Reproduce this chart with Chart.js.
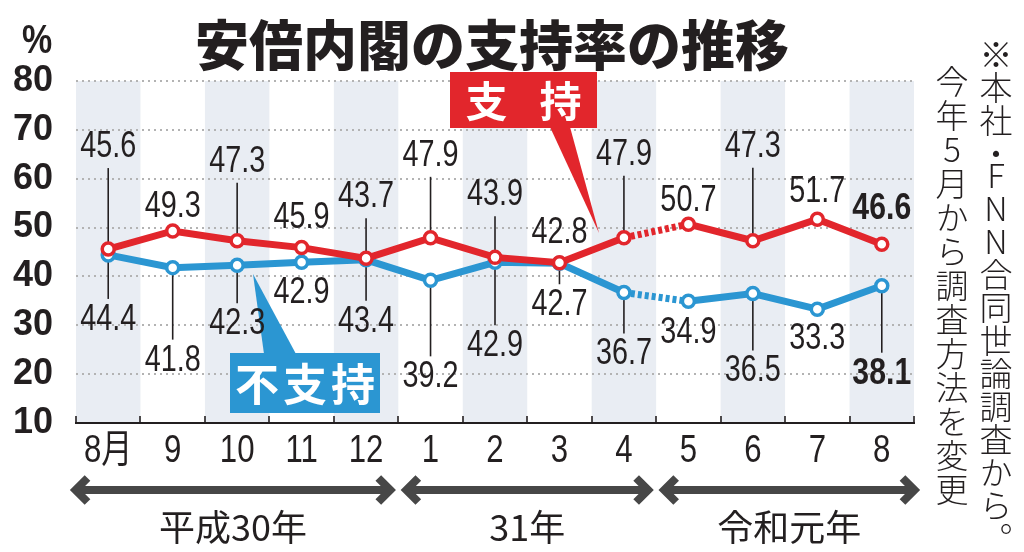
<!DOCTYPE html>
<html lang="ja">
<head>
<meta charset="utf-8">
<script src="https://cdn.jsdelivr.net/npm/chart.js@4.4.1/dist/chart.umd.min.js"></script>
<style>
  html, body { margin: 0; padding: 0; background: #fff; }
  #wrap { position: relative; width: 1024px; height: 552px; overflow: hidden; }
  #chart { position: absolute; left: 0; top: 0; }
  .txt { position: absolute; color: #231f20; white-space: nowrap; }
  #title { left: 0; width: 984px; top: 13px; text-align: center; font: 900 54px/60px "Noto Sans CJK JP", sans-serif; }
  #pct { left: 22px; top: 19px; font: bold 40px/40px "Liberation Sans", sans-serif; transform: scaleX(0.85); transform-origin: left top; }
  .note { writing-mode: vertical-rl; text-orientation: upright; font: 300 33px/33px "Noto Sans CJK JP", sans-serif; }
  #note1 { left: 979px; top: 38px; }
  #note1 .dot { letter-spacing: -11px; }
  #note2 { left: 935px; top: 65px; letter-spacing: 1px; }
</style>
</head>
<body>
<div id="wrap">
  <canvas id="chart" width="1024" height="552"></canvas>
  <div id="title" class="txt">安倍内閣の支持率の推移</div>
  <div id="pct" class="txt">%</div>
  <div id="note1" class="txt note">※本社<span class="dot">・</span>FNN合同世論調査から。</div>
  <div id="note2" class="txt note">今年5月から調査方法を変更</div>
</div>
<script>
// ===== Data =====
const months = ["8月", "9", "10", "11", "12", "1", "2", "3", "4", "5", "6", "7", "8"];
const supportRate = [45.6, 49.3, 47.3, 45.9, 43.7, 47.9, 43.9, 42.8, 47.9, 50.7, 47.3, 51.7, 46.6];
const nonSupportRate = [44.4, 41.8, 42.3, 42.9, 43.4, 39.2, 42.9, 42.7, 36.7, 34.9, 36.5, 33.3, 38.1];
const yTicks = [10, 20, 30, 40, 50, 60, 70, 80];
const eraLabels = ["平成30年", "31年", "令和元年"];
const eraStart = [0, 5, 9];
const eraEnd = [4, 8, 12];
const methodChangeAt = 8;   // survey method changed between Apr and May (dotted)
const latestIndex = 12;     // latest values are shown in bold

// ===== Styles =====
const RED = "#e2262c";
const BLUE = "#2b96d2";
const BAND = "#e9edf3";
const INK = "#231f20";
const NUM_FONT = '"Liberation Sans", "Noto Sans CJK JP", sans-serif';
const JP_FONT = '"Noto Sans CJK JP", sans-serif';
const SQUEEZE = 0.8;        // the print font is a condensed one

// label offsets from each point, px (negative = above)
const supportLabelDy = [-102, -24, -79, -30, -61, -82, -62, -30, -83, -23, -94, -27, -35];
const nonSupportLabelDy = [65, 93, 59, 31, 62, 97, 84, 42, 62, 32, 78, 30, 88];

// ===== Helpers =====
function squeezedText(ctx, text, x, y, sx) {
    ctx.save();
    ctx.translate(x, y);
    ctx.scale(sx, 1);
    ctx.fillText(text, 0, 0);
    ctx.restore();
}

function drawArrow(ctx, tipL, tipR, y) {
    const h = 12;
    const m = 5.5;  // miter overshoot
    const l = tipL + m, r = tipR - m;
    ctx.beginPath();
    ctx.moveTo(l + 2, y);
    ctx.lineTo(r - 2, y);
    ctx.stroke();
    ctx.beginPath();
    ctx.moveTo(l + h, y - h);
    ctx.lineTo(l, y);
    ctx.lineTo(l + h, y + h);
    ctx.moveTo(r - h, y - h);
    ctx.lineTo(r, y);
    ctx.lineTo(r - h, y + h);
    ctx.stroke();
}

function drawCallout(ctx, box, tip, text, color, gap) {
    ctx.fillStyle = color;
    ctx.beginPath();
    ctx.moveTo(tip.x1, tip.base);
    ctx.lineTo(tip.ax, tip.ay);
    ctx.lineTo(tip.x2, tip.base);
    ctx.closePath();
    ctx.fill();
    ctx.fillRect(box.x, box.y, box.w, box.h);
    ctx.fillStyle = "#fff";
    ctx.font = "bold " + box.size + "px " + JP_FONT;
    ctx.textAlign = "center";
    ctx.textBaseline = "middle";
    const chars = Array.from(text);
    const cx = box.x + box.w / 2;
    chars.forEach(function(c, i) {
        ctx.fillText(c, cx + (i - (chars.length - 1) / 2) * gap, box.y + box.h / 2 + 1);
    });
}

// ===== Plugins =====
const bandsPlugin = {
    id: "bands",
    beforeDraw(chart) {
        const { ctx, chartArea: a, scales: { x } } = chart;
        ctx.save();
        ctx.fillStyle = "#fff";
        ctx.fillRect(0, 0, chart.width, chart.height);
        const w = x.getPixelForValue(1) - x.getPixelForValue(0);
        ctx.fillStyle = BAND;
        months.forEach(function(m, i) {
            if (i % 2 === 0) ctx.fillRect(x.getPixelForValue(i) - w / 2, a.top, w, a.bottom - a.top);
        });
        ctx.restore();
    }
};

const labelsPlugin = {
    id: "valueLabels",
    beforeDatasetsDraw(chart) {
        const { ctx } = chart;
        ctx.save();
        ctx.strokeStyle = INK;
        ctx.lineWidth = 1.6;
        [supportLabelDy, nonSupportLabelDy].forEach(function(dys, di) {
            chart.getDatasetMeta(di).data.forEach(function(pt, i) {
                const dy = dys[i];
                if (Math.abs(dy) < 38) return;
                const end = pt.y + dy - Math.sign(dy) * 21;
                ctx.beginPath();
                ctx.moveTo(pt.x, pt.y);
                ctx.lineTo(pt.x, end);
                ctx.stroke();
            });
        });
        ctx.restore();
    },
    afterDatasetsDraw(chart) {
        const { ctx, chartArea: a, scales: { x } } = chart;
        const w = x.getPixelForValue(1) - x.getPixelForValue(0);
        const edge = function(i) { return x.getPixelForValue(i) - w / 2; };
        ctx.save();

        // tick marks on the axis, at category borders
        ctx.strokeStyle = INK;
        ctx.lineWidth = 1.6;
        for (let i = 0; i <= months.length; i++) {
            const px = Math.round(edge(i));
            ctx.beginPath();
            ctx.moveTo(px, a.bottom - 7);
            ctx.lineTo(px, a.bottom);
            ctx.stroke();
        }

        // month labels
        ctx.fillStyle = INK;
        ctx.textAlign = "center";
        ctx.textBaseline = "middle";
        ctx.font = "39px " + NUM_FONT;
        months.forEach(function(m, i) {
            squeezedText(ctx, m, x.getPixelForValue(i), a.bottom + 28, SQUEEZE);
        });

        // callouts
        drawCallout(ctx, { x: 450, y: 72, w: 147, h: 56, size: 42 },
            { x1: 550, x2: 570, base: 127, ax: 599, ay: 233 }, "支持", RED, 74);
        drawCallout(ctx, { x: 230, y: 353, w: 150, h: 60, size: 44 },
            { x1: 264, x2: 296, base: 354, ax: 253, ay: 274 }, "不支持", BLUE, 48);

        // value labels
        ctx.fillStyle = INK;
        ctx.textAlign = "center";
        ctx.textBaseline = "middle";
        [[supportRate, supportLabelDy], [nonSupportRate, nonSupportLabelDy]].forEach(function(pair, di) {
            chart.getDatasetMeta(di).data.forEach(function(pt, i) {
                const bold = i === latestIndex;
                ctx.font = (bold ? "bold " : "") + "36px " + NUM_FONT;
                squeezedText(ctx, pair[0][i].toFixed(1), pt.x, pt.y + pair[1][i], bold ? 0.84 : SQUEEZE);
            });
        });

        // era arrows and names
        ctx.strokeStyle = "#474747";
        ctx.lineWidth = 8;
        ctx.lineCap = "butt";
        ctx.lineJoin = "miter";
        const last = eraLabels.length - 1;
        eraLabels.forEach(function(name, k) {
            const tipL = edge(eraStart[k]) + (k === 0 ? -6 : 2.5);
            const tipR = edge(eraEnd[k] + 1) + (k === last ? 6 : -2.5);
            drawArrow(ctx, tipL, tipR, 490);
            ctx.fillStyle = INK;
            ctx.font = "36px " + JP_FONT;
            ctx.fillText(name, (tipL + tipR) / 2, 527);
        });
        ctx.restore();
    }
};

// ===== Chart =====
const dottedGap = function(ctx) {
    return ctx.p0DataIndex === methodChangeAt ? [4, 3] : undefined;
};

new Chart(document.getElementById("chart"), {
    type: "line",
    data: {
        labels: months,
        datasets: [
            {
                label: "支持",
                data: supportRate,
                borderColor: RED,
                borderWidth: 7,
                pointRadius: 6,
                pointBorderWidth: 3.5,
                pointBackgroundColor: "#fff",
                pointBorderColor: RED,
                tension: 0,
                segment: { borderDash: dottedGap }
            },
            {
                label: "不支持",
                data: nonSupportRate,
                borderColor: BLUE,
                borderWidth: 7,
                pointRadius: 6,
                pointBorderWidth: 3.5,
                pointBackgroundColor: "#fff",
                pointBorderColor: BLUE,
                tension: 0,
                segment: { borderDash: dottedGap }
            }
        ]
    },
    options: {
        responsive: false,
        animation: false,
        layout: { padding: { top: 81, right: 110, left: 0, bottom: 0 } },
        plugins: { legend: { display: false }, tooltip: { enabled: false } },
        scales: {
            x: {
                offset: true,
                grid: { display: false },
                border: { display: true, color: INK, width: 2 },
                ticks: { display: false },
                afterFit: function(s) { s.height = 129; }
            },
            y: {
                min: 10,
                max: 80,
                afterBuildTicks: function(s) { s.ticks = yTicks.map(function(v) { return { value: v }; }); },
                grid: {
                    drawTicks: false,
                    lineWidth: 2,
                    color: function(c) { return c.tick && c.tick.value === 10 ? "rgba(0,0,0,0)" : "#b3b3b3"; }
                },
                border: { display: false, dash: [2, 4] },
                ticks: { color: INK, font: { family: '"Liberation Sans", sans-serif', size: 36, weight: "bold" }, padding: 23 },
                afterFit: function(s) { s.width = 76; }
            }
        }
    },
    plugins: [bandsPlugin, labelsPlugin]
});
</script>
</body>
</html>
